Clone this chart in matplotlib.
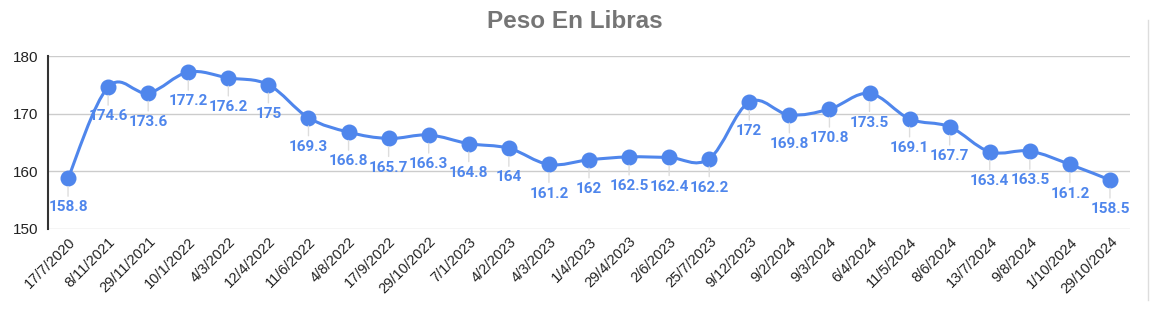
import numpy as np
import matplotlib
matplotlib.use("Agg")
import matplotlib.pyplot as plt
from matplotlib.path import Path
from matplotlib.patches import PathPatch
from matplotlib.lines import Line2D

dates = ["17/7/2020", "8/11/2021", "29/11/2021", "10/1/2022", "4/3/2022", "12/4/2022",
         "11/6/2022", "4/8/2022", "17/9/2022", "29/10/2022", "7/1/2023", "4/2/2023",
         "4/3/2023", "1/4/2023", "29/4/2023", "2/6/2023", "25/7/2023", "9/12/2023",
         "9/2/2024", "9/3/2024", "6/4/2024", "11/5/2024", "8/6/2024", "13/7/2024",
         "9/8/2024", "1/10/2024", "29/10/2024"]
weights = [158.8, 174.6, 173.6, 177.2, 176.2, 175, 169.3, 166.8, 165.7, 166.3, 164.8, 164,
           161.2, 162, 162.5, 162.4, 162.2, 172, 169.8, 170.8, 173.5, 169.1, 167.7, 163.4,
           163.5, 161.2, 158.5]
y_ticks = [150, 160, 170, 180]

BLUE = "#4f86ec"

plt.rcParams["font.family"] = ["Liberation Sans", "DejaVu Sans"]

fig = plt.figure(figsize=(11.5, 3.11), dpi=100)
ax = fig.add_axes([48 / 1150, 1 - 229 / 311, (1130 - 48) / 1150, (229 - 56) / 311])

x = np.arange(len(weights))
y = np.array(weights, dtype=float)

# smooth line: cubic bezier segments through the points
t = 0.18
verts = [(x[0], y[0])]
codes = [Path.MOVETO]
n = len(x)
for i in range(n - 1):
    p0 = np.array([x[max(i - 1, 0)], y[max(i - 1, 0)]])
    p1 = np.array([x[i], y[i]])
    p2 = np.array([x[i + 1], y[i + 1]])
    p3 = np.array([x[min(i + 2, n - 1)], y[min(i + 2, n - 1)]])
    c1 = p1 + (p2 - p0) * t
    c2 = p2 - (p3 - p1) * t
    verts += [tuple(c1), tuple(c2), tuple(p2)]
    codes += [Path.CURVE4] * 3
ax.add_patch(PathPatch(Path(verts, codes), facecolor="none", edgecolor=BLUE, lw=2.2, zorder=3))
ax.plot(x, y, "o", color=BLUE, markersize=10.5, zorder=4)

for xi, yi in zip(x, y):
    ax.annotate(f"{yi:g}", (xi, yi), xytext=(0, -21), textcoords="offset points",
                ha="center", va="center", color=BLUE, fontsize=11, fontweight="bold",
                family=["Roboto", "DejaVu Sans"], zorder=5,
                arrowprops=dict(arrowstyle="-", color="#dddddd", lw=1, shrinkA=1, shrinkB=6))

ax.set_xlim(-0.5, n - 0.5)
ax.set_ylim(150, 180)
ax.set_yticks(y_ticks)
ax.set_xticks(x)
ax.set_xticklabels(dates, rotation=45, ha="right", rotation_mode="anchor", fontsize=10.5, color="#222222")
ax.tick_params(axis="y", labelsize=11, colors="#222222", length=0, pad=7)
ax.tick_params(axis="x", length=0, pad=4)
ax.grid(axis="y", color="#cccccc", lw=1)
ax.set_axisbelow(True)
for s in ["top", "right", "bottom"]:
    ax.spines[s].set_visible(False)
ax.spines["left"].set_color("#333333")
ax.spines["left"].set_linewidth(1.5)

fig.text(0.5, 1 - 22 / 311, "Peso En Libras", ha="center", va="center",
         fontsize=17.5, fontweight="bold", color="#757575")

# card edge on the right
fig.add_artist(Line2D([1148 / 1150] * 2, [1 - 300 / 311, 1 - 20 / 311],
                      transform=fig.transFigure, color="#dddddd", lw=1))

fig.savefig("out.png", dpi=100, facecolor="white")
